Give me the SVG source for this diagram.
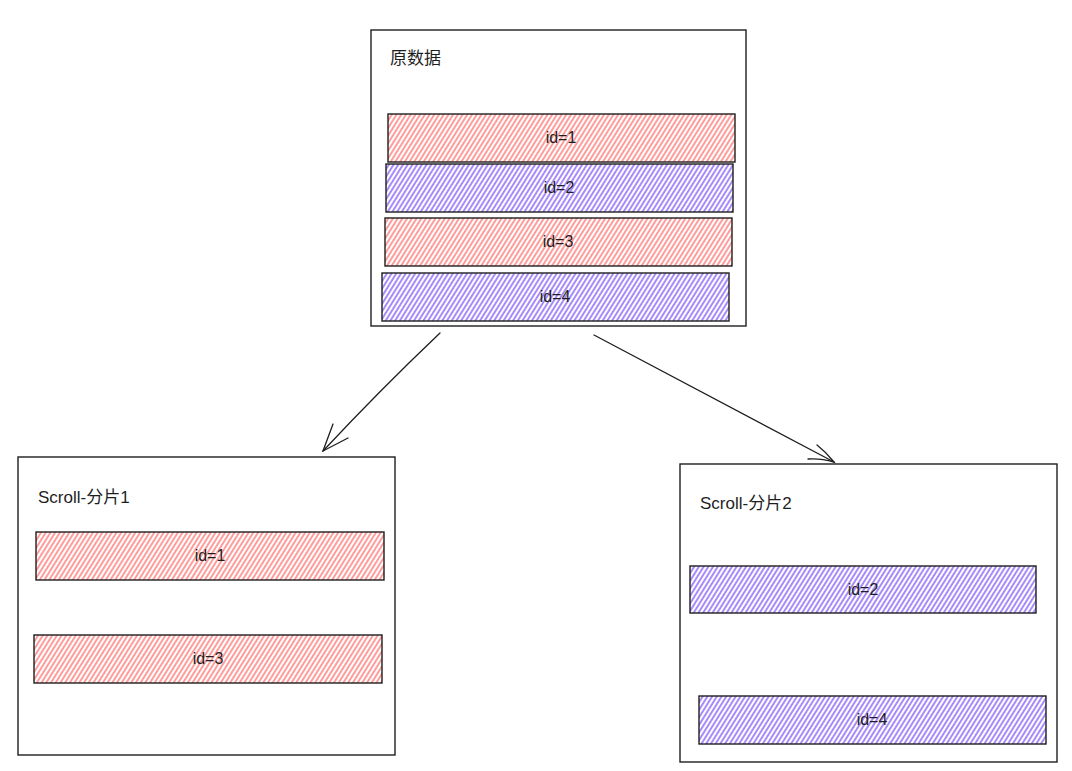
<svg xmlns="http://www.w3.org/2000/svg" width="1072" height="771" viewBox="0 0 1072 771">
<style>
.frame{fill:#fff;stroke:#1e1e1e;stroke-width:1.4}
.bar{stroke:#1e1e1e;stroke-width:1.4}
.red{fill:url(#hred)}
.blue{fill:url(#hblue)}
.lbl{font-family:"Liberation Sans","Noto Sans CJK SC",sans-serif;font-size:16px;fill:#1e1e1e;text-anchor:middle}
.title{font-family:"Liberation Sans","Noto Sans CJK SC",sans-serif;font-size:17px;fill:#1e1e1e}
.conn{fill:none;stroke:#1e1e1e;stroke-width:1.3;stroke-linecap:round}
</style>
<defs>
<pattern id="hred" patternUnits="userSpaceOnUse" width="4" height="4" patternTransform="rotate(32)">
<rect width="4" height="4" fill="#fff"/>
<line x1="1" y1="0" x2="1" y2="4" stroke="#ff9c9c" stroke-width="2"/>
</pattern>
<pattern id="hblue" patternUnits="userSpaceOnUse" width="4" height="4" patternTransform="rotate(32)">
<rect width="4" height="4" fill="#fff"/>
<line x1="1" y1="0" x2="1" y2="4" stroke="#a88bfa" stroke-width="2"/>
</pattern>
</defs>
<g id="source">
<rect class="frame" x="371" y="30" width="375" height="296"/>
<text class="title" x="390" y="64">原数据</text>
<g id="src-1"><rect class="bar red" x="388" y="114" width="347" height="48"/><text class="lbl" x="561" y="143">id=1</text></g>
<g id="src-2"><rect class="bar blue" x="386" y="164" width="347" height="48"/><text class="lbl" x="559" y="193">id=2</text></g>
<g id="src-3"><rect class="bar red" x="385" y="218" width="347" height="48"/><text class="lbl" x="558" y="247">id=3</text></g>
<g id="src-4"><rect class="bar blue" x="382" y="273" width="347" height="48"/><text class="lbl" x="555" y="302">id=4</text></g>
</g>
<g id="shard1">
<rect class="frame" x="18" y="457" width="377" height="298"/>
<text class="title" x="38" y="503">Scroll-分片1</text>
<g id="s1-1"><rect class="bar red" x="36" y="532" width="348" height="48"/><text class="lbl" x="210" y="561">id=1</text></g>
<g id="s1-3"><rect class="bar red" x="34" y="635" width="348" height="48"/><text class="lbl" x="208" y="664">id=3</text></g>
</g>
<g id="shard2">
<rect class="frame" x="680" y="464" width="377" height="298"/>
<text class="title" x="700" y="509">Scroll-分片2</text>
<g id="s2-2"><rect class="bar blue" x="690" y="566" width="346" height="47"/><text class="lbl" x="863" y="595">id=2</text></g>
<g id="s2-4"><rect class="bar blue" x="699" y="696" width="347" height="48"/><text class="lbl" x="872" y="725">id=4</text></g>
</g>
<g id="connectors">
<path class="conn" d="M440 333 Q380 390 323 451"/>
<path class="conn" d="M333 424 L323 451 L348 438"/>
<path class="conn" d="M594 335 L834 462"/>
<path class="conn" d="M817 445 Q826 452 834 462 Q820 458 808 459"/>
</g>
</svg>
